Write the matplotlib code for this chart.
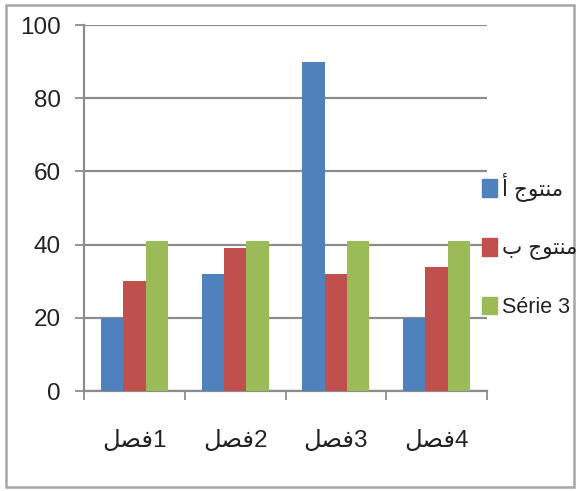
import numpy as np
import matplotlib.pyplot as plt
from matplotlib.patches import Patch, Rectangle

# Arabic strings are written in visual order with presentation forms,
# since matplotlib does no shaping or bidi reordering itself.
categories = ["\uFEDE\uFEBC\uFED31", "\uFEDE\uFEBC\uFED32",
              "\uFEDE\uFEBC\uFED33", "\uFEDE\uFEBC\uFED34"]
series_names = ["\uFE83 \uFE9D\uFEEE\uFE98\uFEE8\uFEE3",
                "\uFE8F \uFE9D\uFEEE\uFE98\uFEE8\uFEE3",
                "Série 3"]
product_a = [20, 32, 90, 20]
product_b = [30, 39, 32, 34]
series_3 = [41, 41, 41, 41]
y_ticks = [0, 20, 40, 60, 80, 100]

colors = ["#4F81BD", "#C0504D", "#9BBB59"]
grid_col = "#8C8C8C"
fonts = ["Liberation Sans", "DejaVu Sans"]
plt.rcParams["font.family"] = fonts

W, H = 578, 491
fig = plt.figure(figsize=(W / 100, H / 100), dpi=100)
ax = fig.add_axes([84 / W, 1 - 391 / H, (487 - 84) / W, (391 - 25) / H])

x = np.arange(len(categories))
w = 1 / 4.5
for i, vals in enumerate([product_a, product_b, series_3]):
    ax.bar(x + (i - 1) * w, vals, width=w, color=colors[i], zorder=3,
           label=series_names[i])

ax.set_xlim(-0.5, len(categories) - 0.5)
ax.set_ylim(0, 100)
ax.set_yticks(y_ticks)
ax.yaxis.grid(True, color=grid_col, linewidth=1.6, zorder=0)
ax.tick_params(axis="y", direction="out", length=6.5, width=1.3,
               color=grid_col, labelsize=17.5, pad=10, labelcolor="#222222")

# category boundaries get tick marks, category centres get the labels
ax.set_xticks(np.arange(-0.5, len(categories)), labels=[""] * 5)
ax.set_xticks(x, labels=categories, minor=True)
ax.tick_params(axis="x", which="major", direction="out", length=6.5,
               width=1.3, color=grid_col)
ax.tick_params(axis="x", which="minor", length=0, labelsize=17.5, pad=28,
               labelcolor="#222222")

for side in ["top", "right"]:
    ax.spines[side].set_visible(False)
for side in ["left", "bottom"]:
    ax.spines[side].set_color(grid_col)
    ax.spines[side].set_linewidth(1.6)

handles = [Patch(color=c) for c in colors]
fig.legend(handles, series_names, loc="center left",
           bbox_to_anchor=(482 / W, 1 - 245 / H), frameon=False,
           fontsize=15.5, borderpad=0, borderaxespad=0, handlelength=0.7,
           handleheight=0.9, handletextpad=0.25, labelspacing=1.7,
           labelcolor="#222222")

# outer chart border
fig.patches.append(Rectangle((6 / W, 4 / H), 568 / W, 482 / H,
                             transform=fig.transFigure, fill=False,
                             edgecolor="#A6A6A6", linewidth=1.8))

fig.savefig("out.png", dpi=100)
